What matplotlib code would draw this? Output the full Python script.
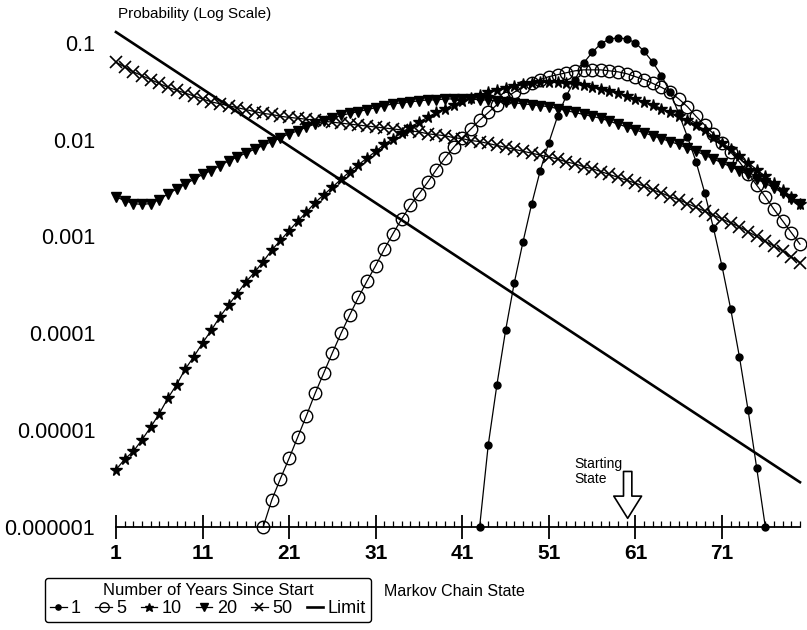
import numpy as np
import matplotlib
matplotlib.use("Agg")
import matplotlib.pyplot as plt
from matplotlib.ticker import FixedLocator, NullLocator

plt.rcParams['font.family'] = ['Liberation Sans', 'DejaVu Sans']

# log10 of probability per Markov chain state
states_y1 = np.arange(43, 77)
log_p_y1 = [-6.00, -5.15, -4.53, -3.97, -3.48, -3.06, -2.67, -2.32, -2.03, -1.76,
            -1.55, -1.385, -1.21, -1.10, -1.01, -0.96, -0.95, -0.96, -1.00, -1.09,
            -1.20, -1.34, -1.51, -1.73, -1.97, -2.23, -2.55, -2.91, -3.31, -3.75,
            -4.24, -4.79, -5.39, -6.00]

states_y5 = np.arange(18, 81)
log_p_y5 = [-6.00, -5.72, -5.50, -5.29, -5.07, -4.85, -4.62, -4.41, -4.20, -4.00,
            -3.81, -3.63, -3.46, -3.30, -3.13, -2.97, -2.82, -2.68, -2.56, -2.44,
            -2.31, -2.19, -2.08, -1.98, -1.89, -1.80, -1.72, -1.64, -1.57, -1.51,
            -1.46, -1.42, -1.38, -1.35, -1.33, -1.31, -1.29, -1.28, -1.28, -1.28,
            -1.29, -1.30, -1.32, -1.35, -1.38, -1.42, -1.46, -1.51, -1.58, -1.66,
            -1.76, -1.85, -1.94, -2.03, -2.13, -2.23, -2.35, -2.47, -2.59, -2.72,
            -2.84, -2.96, -3.08]

states_all = np.arange(1, 81)
log_p_y10 = [-5.41, -5.30, -5.22, -5.10, -4.97, -4.83, -4.67, -4.53, -4.37, -4.24,
             -4.10, -3.97, -3.83, -3.71, -3.59, -3.47, -3.37, -3.26, -3.14, -3.04,
             -2.94, -2.84, -2.75, -2.65, -2.57, -2.49, -2.41, -2.33, -2.26, -2.19,
             -2.12, -2.05, -1.99, -1.93, -1.87, -1.82, -1.77, -1.72, -1.68, -1.64,
             -1.60, -1.57, -1.54, -1.51, -1.49, -1.47, -1.45, -1.43, -1.42, -1.41,
             -1.41, -1.41, -1.42, -1.43, -1.44, -1.46, -1.48, -1.50, -1.52, -1.55,
             -1.58, -1.61, -1.64, -1.68, -1.72, -1.76, -1.80, -1.85, -1.90, -1.97,
             -2.03, -2.10, -2.17, -2.24, -2.31, -2.38, -2.45, -2.52, -2.59, -2.66]

log_p_y20 = [-2.59, -2.63, -2.66, -2.67, -2.66, -2.62, -2.56, -2.51, -2.46, -2.41,
             -2.36, -2.32, -2.27, -2.22, -2.18, -2.14, -2.10, -2.06, -2.02, -1.98,
             -1.94, -1.91, -1.87, -1.84, -1.81, -1.78, -1.75, -1.73, -1.71, -1.69,
             -1.67, -1.65, -1.63, -1.62, -1.61, -1.60, -1.59, -1.59, -1.58, -1.58,
             -1.58, -1.58, -1.59, -1.59, -1.60, -1.61, -1.62, -1.63, -1.64, -1.65,
             -1.66, -1.68, -1.70, -1.72, -1.74, -1.76, -1.78, -1.81, -1.84, -1.87,
             -1.90, -1.93, -1.96, -1.99, -2.02, -2.05, -2.09, -2.12, -2.16, -2.20,
             -2.24, -2.28, -2.32, -2.36, -2.41, -2.45, -2.50, -2.55, -2.61, -2.67]

log_p_y50 = [-1.20, -1.25, -1.30, -1.34, -1.38, -1.42, -1.46, -1.49, -1.52, -1.55,
             -1.58, -1.61, -1.63, -1.65, -1.67, -1.69, -1.71, -1.73, -1.74, -1.76,
             -1.77, -1.78, -1.79, -1.80, -1.81, -1.82, -1.83, -1.84, -1.85, -1.86,
             -1.87, -1.88, -1.89, -1.90, -1.91, -1.92, -1.94, -1.95, -1.96, -1.98,
             -1.99, -2.01, -2.02, -2.04, -2.06, -2.08, -2.10, -2.12, -2.14, -2.16,
             -2.18, -2.20, -2.23, -2.25, -2.28, -2.30, -2.33, -2.36, -2.39, -2.42,
             -2.45, -2.48, -2.52, -2.55, -2.59, -2.62, -2.66, -2.70, -2.74, -2.78,
             -2.82, -2.86, -2.90, -2.95, -3.00, -3.05, -3.10, -3.15, -3.21, -3.27]

# limiting distribution: straight on the log scale, only end points drawn
states_limit = [1, 80]
p_limit = [0.129, 2.9e-6]

ytick_vals = [1e-1, 1e-2, 1e-3, 1e-4, 1e-5, 1e-6]
ytick_labels = ['0.1', '0.01', '0.001', '0.0001', '0.00001', '0.000001']
xtick_major = [1, 11, 21, 31, 41, 51, 61, 71]

fig = plt.figure(figsize=(8.07, 6.3), dpi=100)
ax = fig.add_axes([0.1437, 0.1635, 0.8476, 0.7957])

lw = 0.9
h1, = ax.plot(states_y1, 10 ** np.array(log_p_y1), color='black', lw=lw,
              marker='o', ms=5, mfc='black', mec='black', label='1', clip_on=False)
h5, = ax.plot(states_y5, 10 ** np.array(log_p_y5), color='black', lw=lw,
              marker='o', ms=9, mfc='none', mec='black', mew=1.0, label='5', clip_on=False)
h10, = ax.plot(states_all, 10 ** np.array(log_p_y10), color='black', lw=lw,
               marker='*', ms=8.5, mfc='black', mec='black', label='10', clip_on=False)
h20, = ax.plot(states_all, 10 ** np.array(log_p_y20), color='black', lw=lw,
               marker='v', ms=7.5, mfc='black', mec='black', label='20', clip_on=False)
h50, = ax.plot(states_all, 10 ** np.array(log_p_y50), color='black', lw=lw,
               marker='x', ms=8.5, mec='black', mew=1.2, label='50', clip_on=False)
hl, = ax.plot(states_limit, p_limit, color='black', lw=1.9, label='Limit', clip_on=False)

ax.set_yscale('log')
ax.set_ylim(1e-6, 0.15)
ax.set_xlim(1, 80)

for side in ['top', 'right', 'left']:
    ax.spines[side].set_visible(False)
ax.spines['bottom'].set_linewidth(1.3)

ax.yaxis.set_major_locator(FixedLocator(ytick_vals))
ax.yaxis.set_minor_locator(NullLocator())
ax.set_yticklabels(ytick_labels)
ax.tick_params(axis='y', length=0, pad=15, labelsize=15.5)

ax.xaxis.set_major_locator(FixedLocator(xtick_major))
ax.xaxis.set_minor_locator(FixedLocator(states_all))
ax.tick_params(axis='x', which='major', direction='inout', length=17, width=1.3,
               labelsize=15, pad=4)
ax.tick_params(axis='x', which='minor', direction='in', length=4, width=0.9)
for lab in ax.get_xticklabels():
    lab.set_fontweight('bold')

fig.text(118 / 807, 1 - 14 / 630, 'Probability (Log Scale)', fontsize=11,
         ha='left', va='center')
fig.text(384 / 807, 1 - 591 / 630, 'Markov Chain State', fontsize=11.5,
         ha='left', va='center')

# starting state marker
ax.annotate('', xy=(60.1, 1.15e-6), xytext=(60.1, 4.0e-6),
            arrowprops=dict(arrowstyle='simple,head_width=2.0,head_length=1.6,tail_width=0.6',
                            fc='white', ec='black', lw=1.2))
ax.text(53.9, 3.75e-6, 'Starting\nState', fontsize=10, ha='left', va='center',
        linespacing=1.05)

leg = ax.legend(handles=[h1, h5, h10, h20, h50, hl], title='Number of Years Since Start',
                ncol=6, loc='center', bbox_to_anchor=(208 / 807, 1 - 600 / 630),
                bbox_transform=fig.transFigure, frameon=True, fancybox=True,
                fontsize=13, title_fontsize=12, handlelength=0.9, handletextpad=0.25,
                columnspacing=0.8, borderpad=0.3, labelspacing=0.1, markerscale=0.75,
                borderaxespad=0)
leg.get_frame().set_edgecolor('black')
leg.get_frame().set_linewidth(1.0)
leg.get_frame().set_alpha(1)

fig.savefig('out.png', dpi=100)
